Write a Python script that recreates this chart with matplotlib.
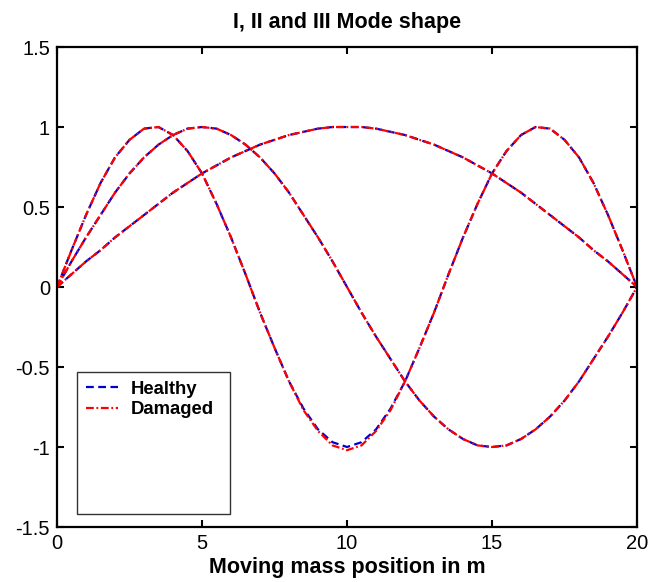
import matplotlib
matplotlib.use("Agg")
import matplotlib.pyplot as plt
from matplotlib.patches import Rectangle

# moving mass position (m)
pos = [0.0, 0.5, 1.0, 1.5, 2.0, 2.5, 3.0, 3.5, 4.0, 4.5,
       5.0, 5.5, 6.0, 6.5, 7.0, 7.5, 8.0, 8.5, 9.0, 9.5,
       10.0, 10.5, 11.0, 11.5, 12.0, 12.5, 13.0, 13.5, 14.0, 14.5,
       15.0, 15.5, 16.0, 16.5, 17.0, 17.5, 18.0, 18.5, 19.0, 19.5, 20.0]

# healthy mode shapes
healthy_1 = [0.00, 0.08, 0.16, 0.23, 0.31, 0.38, 0.45, 0.52, 0.59, 0.65,
             0.71, 0.76, 0.81, 0.85, 0.89, 0.92, 0.95, 0.97, 0.99, 1.00,
             1.00, 1.00, 0.99, 0.97, 0.95, 0.92, 0.89, 0.85, 0.81, 0.76,
             0.71, 0.65, 0.59, 0.52, 0.45, 0.38, 0.31, 0.23, 0.16, 0.08, 0.00]
healthy_2 = [0.00, 0.16, 0.31, 0.45, 0.59, 0.71, 0.81, 0.89, 0.95, 0.99,
             1.00, 0.99, 0.95, 0.89, 0.81, 0.71, 0.59, 0.45, 0.31, 0.16,
             0.00, -0.16, -0.31, -0.45, -0.59, -0.71, -0.81, -0.89, -0.95, -0.99,
             -1.00, -0.99, -0.95, -0.89, -0.81, -0.71, -0.59, -0.45, -0.31, -0.16, 0.00]
healthy_3 = [0.00, 0.23, 0.45, 0.65, 0.81, 0.92, 0.99, 1.00, 0.95, 0.85,
             0.71, 0.52, 0.31, 0.08, -0.16, -0.38, -0.59, -0.76, -0.89, -0.97,
             -1.00, -0.97, -0.89, -0.76, -0.59, -0.38, -0.16, 0.08, 0.31, 0.52,
             0.71, 0.85, 0.95, 1.00, 0.99, 0.92, 0.81, 0.65, 0.45, 0.23, 0.00]

# damaged mode shapes (nearly identical, third mode dips a bit deeper)
damaged_1 = [0.00, 0.08, 0.16, 0.23, 0.31, 0.38, 0.45, 0.52, 0.59, 0.65,
             0.71, 0.76, 0.81, 0.85, 0.89, 0.92, 0.95, 0.97, 0.99, 1.00,
             1.00, 1.00, 0.99, 0.97, 0.95, 0.92, 0.89, 0.85, 0.81, 0.76,
             0.71, 0.65, 0.59, 0.52, 0.45, 0.38, 0.31, 0.23, 0.16, 0.08, 0.00]
damaged_2 = [0.00, 0.16, 0.31, 0.45, 0.59, 0.71, 0.81, 0.89, 0.95, 0.99,
             1.00, 0.99, 0.95, 0.89, 0.81, 0.71, 0.59, 0.45, 0.31, 0.16,
             0.00, -0.16, -0.31, -0.45, -0.59, -0.71, -0.81, -0.89, -0.95, -0.99,
             -1.00, -0.99, -0.95, -0.89, -0.81, -0.71, -0.59, -0.45, -0.31, -0.16, 0.00]
damaged_3 = [0.00, 0.23, 0.45, 0.65, 0.81, 0.92, 0.99, 1.00, 0.95, 0.85,
             0.71, 0.52, 0.31, 0.08, -0.16, -0.38, -0.59, -0.77, -0.90, -0.99,
             -1.02, -0.99, -0.90, -0.77, -0.59, -0.38, -0.16, 0.08, 0.31, 0.52,
             0.71, 0.85, 0.95, 1.00, 0.99, 0.92, 0.81, 0.65, 0.45, 0.23, 0.00]

plt.rcParams["font.family"] = ["Liberation Sans", "DejaVu Sans"]

fig = plt.figure(figsize=(6.57, 5.82), dpi=100)
ax = fig.add_axes([0.0868, 0.0945, 0.8828, 0.8247])

for i, h in enumerate([healthy_1, healthy_2, healthy_3]):
    ax.plot(pos, h, color="#0000cc", linestyle=(0, (3.5, 2)), lw=1.6,
            label="Healthy" if i == 0 else None)
for i, d in enumerate([damaged_1, damaged_2, damaged_3]):
    ax.plot(pos, d, color="#ff0000", linestyle=(0, (3.5, 1.2, 0.8, 1.2)), lw=1.6,
            label="Damaged" if i == 0 else None)

ax.set_xlim(0, 20)
ax.set_ylim(-1.5, 1.5)
ax.set_xticks([0, 5, 10, 15, 20])
ax.set_yticks([-1.5, -1, -0.5, 0, 0.5, 1, 1.5])
ax.set_yticklabels(["-1.5", "-1", "-0.5", "0", "0.5", "1", "1.5"])
ax.tick_params(direction="in", length=5, width=1.5, labelsize=14.5,
               top=True, right=True, pad=5)
for s in ax.spines.values():
    s.set_linewidth(1.6)

ax.set_title("I, II and III Mode shape", fontsize=15.5, fontweight="bold", pad=14)
ax.set_xlabel("Moving mass position in m", fontsize=15.5, fontweight="bold",
              labelpad=3)

# MATLAB-style legend with a tall box
ax.add_patch(Rectangle((0.034, 0.027), 0.264, 0.296, transform=ax.transAxes,
                       fill=True, facecolor="white", edgecolor="#333333",
                       lw=1.0, zorder=4))
leg = ax.legend(loc="upper left", bbox_to_anchor=(0.038, 0.32), frameon=False,
                prop={"weight": "bold", "size": 13.3}, handlelength=1.7,
                handletextpad=0.7, labelspacing=0.2, borderaxespad=0.0)
leg.set_zorder(5)

fig.savefig("out.png", dpi=100)
